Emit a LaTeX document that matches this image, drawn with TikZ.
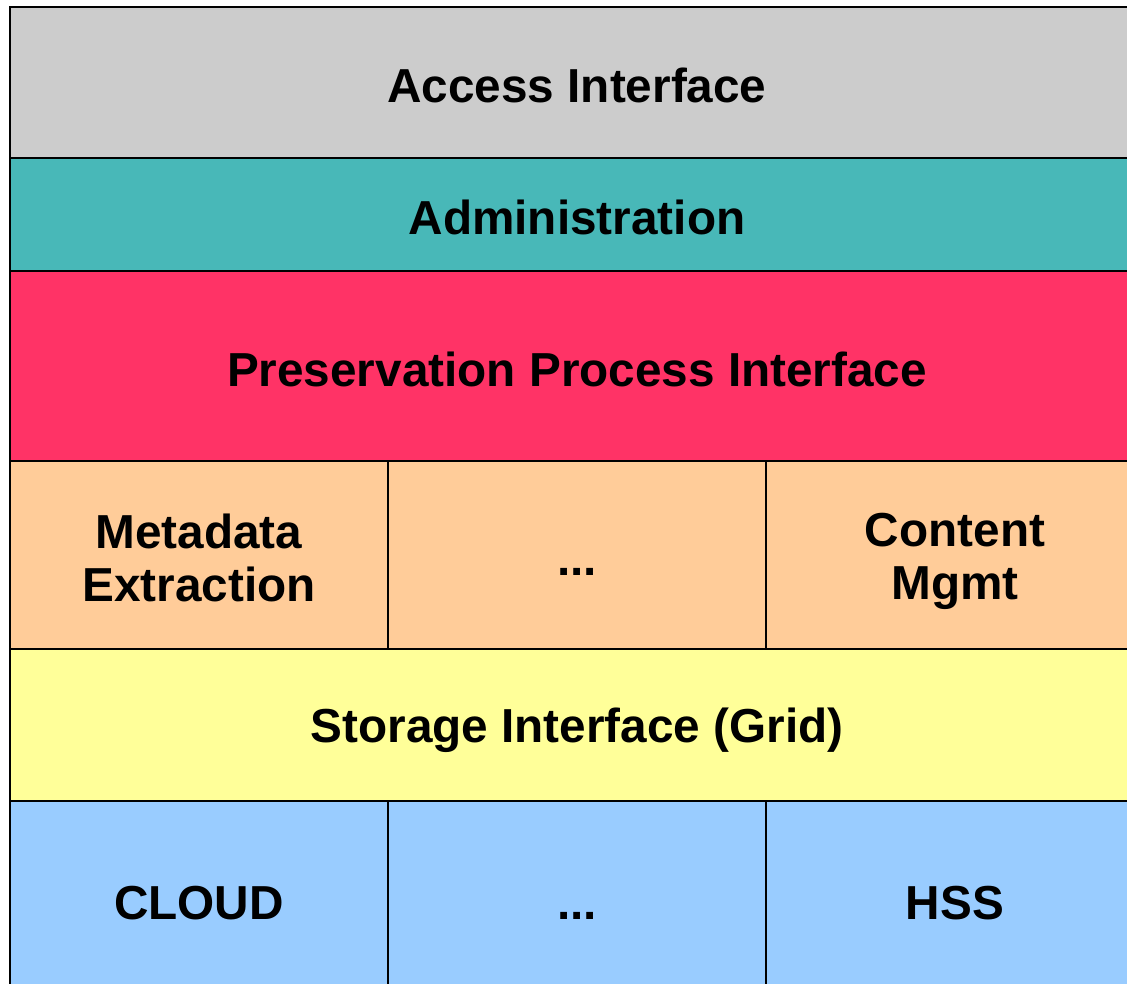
\documentclass[tikz,border=0pt]{standalone}
\usepackage{fontspec}
\setmainfont{Liberation Sans}
\definecolor{cgray}{HTML}{CCCCCC}
\definecolor{cteal}{HTML}{48B8B8}
\definecolor{cred}{HTML}{FF3366}
\definecolor{cpeach}{HTML}{FFCC99}
\definecolor{cyellow}{HTML}{FFFF99}
\definecolor{cblue}{HTML}{99CCFF}
\newcommand\lstrut{\rule[-0.1em]{0pt}{1.05em}}
\begin{document}
\begin{tikzpicture}[x=1pt,y=-1pt,
  layer/.style={draw=black,line width=2pt,inner sep=0pt,outer sep=0pt,
    font=\fontsize{47.7}{53}\selectfont\bfseries,align=center,anchor=north west},
]
\useasboundingbox (0,0) rectangle (1127,984);
\clip (0,0) rectangle (1127,984);
\node[layer,fill=cgray,minimum width=1134pt,minimum height=151pt] (access) at (10,7) {\lstrut Access Interface};
\node[layer,fill=cteal,minimum width=1134pt,minimum height=113pt] (admin) at (10,158) {\lstrut Administration};
\node[layer,fill=cred,minimum width=1134pt,minimum height=190pt] (pres) at (10,271) {\lstrut Preservation Process Interface};
\node[layer,fill=cpeach,minimum width=378pt,minimum height=188pt] (meta) at (10,461) {\lstrut Metadata\\\lstrut Extraction};
\node[layer,fill=cpeach,minimum width=378pt,minimum height=188pt] (mdots) at (388,461) {\lstrut ...};
\node[layer,fill=cpeach,minimum width=378pt,minimum height=188pt] (content) at (766,461) {\lstrut Content\\\lstrut Mgmt};
\node[layer,fill=cyellow,minimum width=1134pt,minimum height=152pt] (storage) at (10,649) {\lstrut Storage Interface (Grid)};
\node[layer,fill=cblue,minimum width=378pt,minimum height=196pt] (cloud) at (10,801) {\lstrut CLOUD};
\node[layer,fill=cblue,minimum width=378pt,minimum height=196pt] (bdots) at (388,801) {\lstrut ...};
\node[layer,fill=cblue,minimum width=378pt,minimum height=196pt] (hss) at (766,801) {\lstrut HSS};
\end{tikzpicture}
\end{document}
